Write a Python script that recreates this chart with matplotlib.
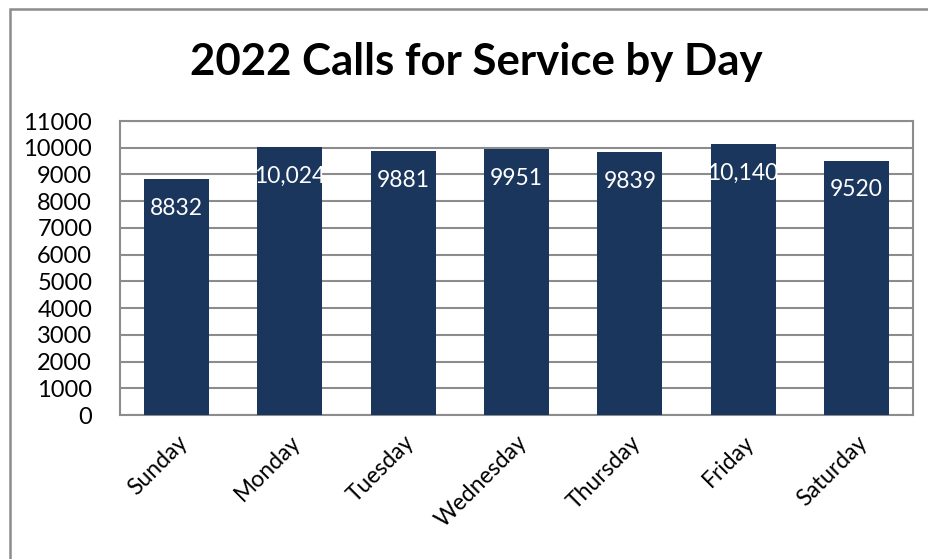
import matplotlib.pyplot as plt
from matplotlib.patches import Rectangle

days = ["Sunday", "Monday", "Tuesday", "Wednesday", "Thursday", "Friday", "Saturday"]
calls = [8832, 10024, 9881, 9951, 9839, 10140, 9520]
labels = ["8832", "10,024", "9881", "9951", "9839", "10,140", "9520"]
yticks = list(range(0, 11001, 1000))

bar_color = "#1b365d"
grid_color = "#8c8c8c"

plt.rcParams["font.family"] = ["Lato", "DejaVu Sans"]

W, H = 929, 559
fig = plt.figure(figsize=(W / 100, H / 100), dpi=100)
ax = fig.add_axes([120 / W, 1 - 415 / H, (913 - 120) / W, (415 - 121) / H])

x = range(len(days))
ax.bar(x, calls, width=0.575, color=bar_color, zorder=3)
ax.set_xlim(-0.5, len(days) - 0.5)
ax.set_ylim(0, 11000)
ax.set_yticks(yticks)
ax.set_yticklabels([str(v) for v in yticks], fontsize=17)
ax.yaxis.grid(True, color=grid_color, lw=1.5, zorder=0)
ax.tick_params(axis="y", length=0, pad=20)
ax.tick_params(axis="x", length=0, pad=12)
ax.set_xticks(list(x))
ax.set_xticklabels(days, fontsize=16.5, rotation=45, ha="right",
                   rotation_mode="anchor")
for s in ax.spines.values():
    s.set_color(grid_color)
    s.set_linewidth(1.5)

for i, (v, lab) in enumerate(zip(calls, labels)):
    ax.annotate(lab, (i, v), xytext=(0, -21), textcoords="offset points",
                ha="center", va="center", color="white", fontsize=16.5, zorder=4)

fig.text(476 / W, 1 - 62 / H, "2022 Calls for Service by Day",
         ha="center", va="center", fontsize=31.5, fontweight="bold")

# frame around the chart area, open to the right and bottom
fig.patches.append(Rectangle((10.5 / W, -0.1), 1.2, 1 - 8.5 / H + 0.1,
                             transform=fig.transFigure, fill=False,
                             edgecolor="#8c8c8c", lw=1.8))

fig.savefig("out.png", dpi=100)
